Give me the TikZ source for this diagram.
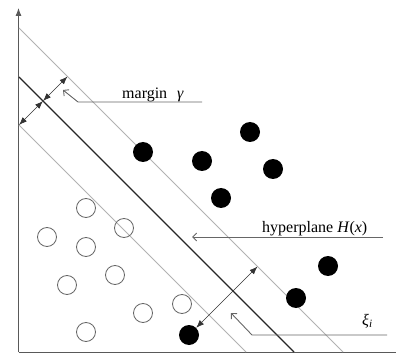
\documentclass[tikz,border=0pt]{standalone}
\usepackage{fontspec}
\setmainfont{Liberation Serif}
\usetikzlibrary{arrows.meta}
\begin{document}
\begin{tikzpicture}[x=1pt,y=-1pt,
  axis/.style={draw=black!65, line width=0.9pt},
  marginline/.style={draw=black!30, line width=1pt},
  hyper/.style={draw=black!85, line width=1.4pt},
  callout/.style={draw=black!60, line width=0.9pt, -{Straight Barb[length=4pt,width=8pt]}},
  dimarrow/.style={draw=black!80, line width=0.7pt, {Latex[length=8pt,width=6pt]}-{Latex[length=8pt,width=6pt]}},
  posdot/.style={circle, fill=black, inner sep=0pt, minimum size=20pt},
  negdot/.style={circle, draw=black!60, line width=0.8pt, inner sep=0pt, minimum size=19pt},
  lbl/.style={font=\fontsize{16}{19}\selectfont, inner sep=0pt, anchor=base west}]
\useasboundingbox (0,0) rectangle (396,358);
% axes
\coordinate (o) at (18.5,352);
\coordinate (ytop) at (18.5,8);
\coordinate (xend) at (396,352);
\draw[axis, -{Latex[length=8pt,width=6pt]}] (o) -- (ytop);
\draw[axis] (o) -- (xend);
% margin lines and hyperplane
\coordinate (u1) at (19,28);  \coordinate (u2) at (343,352);
\coordinate (h1) at (19,77);  \coordinate (h2) at (294,352);
\coordinate (l1) at (19,125); \coordinate (l2) at (246,352);
\draw[marginline] (u1) -- (u2);
\draw[marginline] (l1) -- (l2);
\draw[hyper] (h1) -- (h2);
% margin dimension arrows
\coordinate (mh) at (43,101);
\coordinate (ml) at (19,125);
\coordinate (mu) at (67.5,76.5);
\draw[dimarrow] (ml) -- (mh);
\draw[dimarrow] (mh) -- (mu);
% labels
\node[lbl] (tmargin) at (122,99) {margin\hspace{10pt}\textit{γ}};
\coordinate (mc1) at (202,102); \coordinate (mc2) at (78,102); \coordinate (mc3) at (63,90);
\draw[callout] (mc1) -- (mc2) -- (mc3);
\node[lbl] (thyper) at (262,233) {hyperplane \textit{H}(\textit{x})};
\coordinate (hc1) at (383,237); \coordinate (hc2) at (192,237);
\draw[callout] (hc1) -- (hc2);
\node[lbl] (txi) at (362,325) {\textit{ξ\textsubscript{i}}};
\coordinate (xc1) at (387,335); \coordinate (xc2) at (252,335); \coordinate (xc3) at (231,313);
\draw[callout] (xc1) -- (xc2) -- (xc3);
% positive points
\node[posdot] (p1) at (143,152) {};
\node[posdot] (p2) at (202,161) {};
\node[posdot] (p3) at (250,132) {};
\node[posdot] (p4) at (273,169) {};
\node[posdot] (p5) at (221,198) {};
\node[posdot] (p6) at (328,266) {};
\node[posdot] (p7) at (296,298) {};
\node[posdot] (p8) at (189,335) {};
% negative points
\node[negdot] (n1) at (86,208) {};
\node[negdot] (n2) at (47,237) {};
\node[negdot] (n3) at (86,247) {};
\node[negdot] (n4) at (124,228) {};
\node[negdot] (n5) at (115,275) {};
\node[negdot] (n6) at (67,285) {};
\node[negdot] (n7) at (143,313) {};
\node[negdot] (n8) at (182,304) {};
\node[negdot] (n9) at (86,332) {};
% slack arrow
\coordinate (xi) at (257.5,266.5);
\draw[dimarrow] (p8.45) -- (xi);
\end{tikzpicture}
\end{document}
